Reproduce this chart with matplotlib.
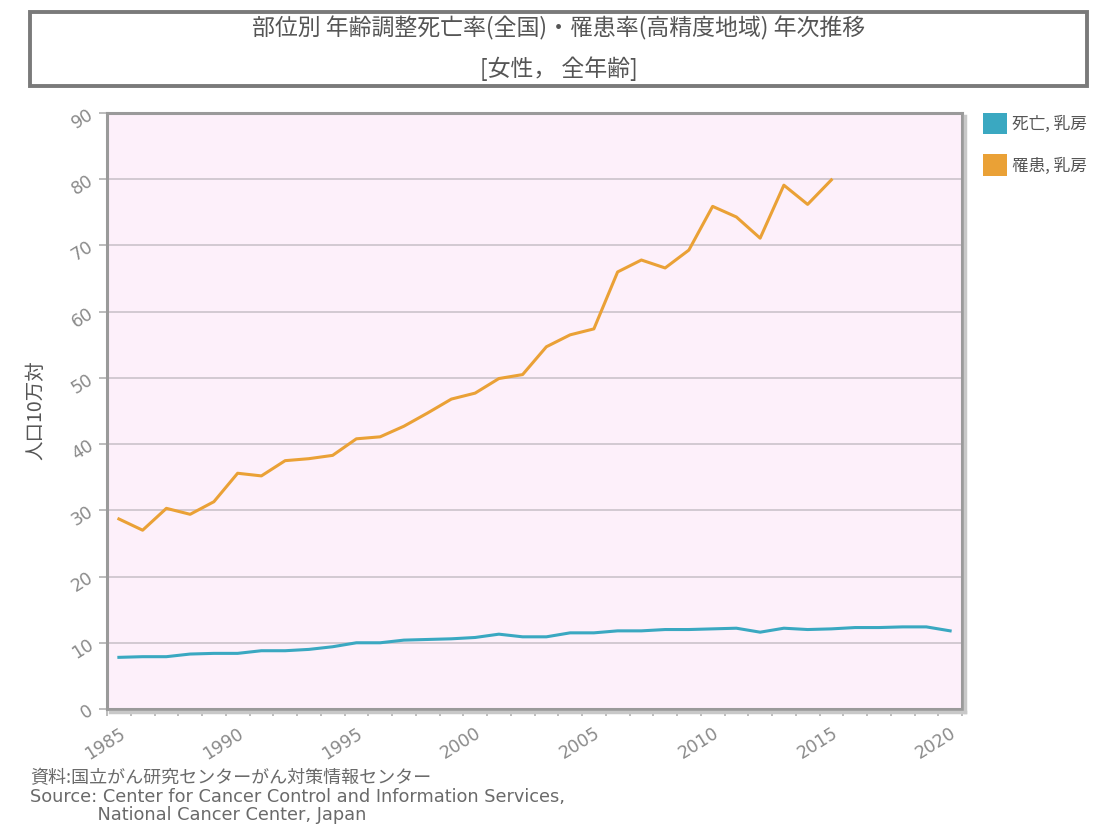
import matplotlib
matplotlib.use("Agg")
import matplotlib.pyplot as plt
from matplotlib.patches import Rectangle, Patch
import numpy as np

plt.rcParams['font.family'] = ['Noto Sans CJK JP', 'DejaVu Sans']

years = list(range(1985, 2021))
death_breast = [7.8, 7.9, 7.9, 8.3, 8.4, 8.4, 8.8, 8.8, 9.0, 9.4,
                10.0, 10.0, 10.4, 10.5, 10.6, 10.8, 11.3, 10.9, 10.9, 11.5,
                11.5, 11.8, 11.8, 12.0, 12.0, 12.1, 12.2, 11.6, 12.2, 12.0,
                12.1, 12.3, 12.3, 12.4, 12.4, 11.8]
incidence_years = list(range(1985, 2016))
incidence_breast = [28.7, 27.0, 30.3, 29.4, 31.3, 35.6, 35.2, 37.5, 37.8, 38.3,
                    40.8, 41.1, 42.7, 44.7, 46.8, 47.7, 49.9, 50.5, 54.7, 56.5,
                    57.4, 66.0, 67.8, 66.6, 69.3, 75.9, 74.3, 71.1, 79.1, 76.2,
                    79.9]
series_labels = ["死亡, 乳房", "罹患, 乳房"]
ytick_values = list(range(0, 100, 10))
xtick_years = [1985, 1990, 1995, 2000, 2005, 2010, 2015, 2020]

title_line1 = "部位別 年齢調整死亡率(全国)・罹患率(高精度地域) 年次推移"
title_line2 = "[女性， 全年齢]"
ylabel = "人口10万対"
source_lines = ["資料:国立がん研究センターがん対策情報センター",
                "Source: Center for Cancer Control and Information Services,",
                "            National Cancer Center, Japan"]

teal = "#3aa8c1"
orange = "#eaa136"
bg = "#fdf0fa"
grid_c = "#cbc3cb"
spine_c = "#9a9a9a"
text_c = "#8a8a8a"

W, H = 1103, 826
fig = plt.figure(figsize=(W / 100, H / 100), dpi=100)
ax = fig.add_axes([107 / W, 1 - 709 / H, (962 - 107) / W, (709 - 113) / H])
ax.set_facecolor(bg)

ax.plot(years, death_breast, color=teal, lw=2.2, solid_joinstyle='round', zorder=3)
ax.plot(incidence_years, incidence_breast, color=orange, lw=2.2, solid_joinstyle='round', zorder=3)

ax.set_xlim(1984.5, 2020.5)
ax.set_ylim(0, 90)
ax.set_yticks(ytick_values)
ax.set_yticklabels([str(v) for v in ytick_values], rotation=32, color=text_c,
                   fontsize=12.5, family='DejaVu Sans', ha='right', va='center',
                   rotation_mode='anchor')
ax.set_xticks(xtick_years)
ax.set_xticklabels([str(v) for v in xtick_years], rotation=32, color=text_c,
                   fontsize=12.5, family='DejaVu Sans', ha='right', va='top',
                   rotation_mode='anchor')
ax.set_xticks(np.arange(1984.5, 2021, 1.0), minor=True)
ax.tick_params(axis='x', which='major', length=0, pad=11)
ax.tick_params(axis='x', which='minor', length=5, width=1.2, color="#b0b0b0", direction='out')
ax.tick_params(axis='y', which='major', length=6, width=1.2, color="#b0b0b0", pad=5)

ax.grid(axis='y', color=grid_c, lw=1.2, zorder=1)
ax.set_axisbelow(True)
for s in ax.spines.values():
    s.set_color(spine_c)
    s.set_linewidth(2.2)

# shadow on right and bottom of plot area
fig.add_artist(plt.Line2D([965 / W, 965 / W], [1 - 116 / H, 1 - 712 / H], color="#c8c8c8", lw=2.5))
fig.add_artist(plt.Line2D([110 / W, 965 / W], [1 - 712 / H, 1 - 712 / H], color="#c8c8c8", lw=2.5))

fig.text(36 / W, 1 - 410 / H, ylabel, rotation=90, ha='center', va='center',
         fontsize=14, color="#555555")

leg = ax.legend(handles=[Patch(facecolor=teal, edgecolor='none'),
                         Patch(facecolor=orange, edgecolor='none')],
                labels=series_labels, loc='upper left', bbox_to_anchor=(1.024, 1.0),
                frameon=False, fontsize=12, handlelength=1.45, handleheight=1.6,
                handletextpad=0.3, labelspacing=1.2, borderaxespad=0, borderpad=0)
for t in leg.get_texts():
    t.set_color("#555555")

# title box
fig.add_artist(Rectangle((30 / W, 1 - 86 / H), (1087 - 30) / W, 74 / H,
                         transform=fig.transFigure, fill=False, edgecolor="#7a7a7a", lw=2.8))
fig.text(559 / W, 1 - 28 / H, title_line1, ha='center', va='center', fontsize=16.5, color="#555555")
fig.text(559 / W, 1 - 69 / H, title_line2, ha='center', va='center', fontsize=16.5, color="#555555")

fig.text(30 / W, 1 - 778 / H, source_lines[0], ha='left', va='center', fontsize=13, color="#6a6a6a")
fig.text(30 / W, 1 - 797 / H, source_lines[1], ha='left', va='center', fontsize=12.8,
         color="#6a6a6a", family='DejaVu Sans')
fig.text(30 / W, 1 - 815 / H, source_lines[2], ha='left', va='center', fontsize=12.8,
         color="#6a6a6a", family='DejaVu Sans')

fig.savefig("out.png", dpi=100)
